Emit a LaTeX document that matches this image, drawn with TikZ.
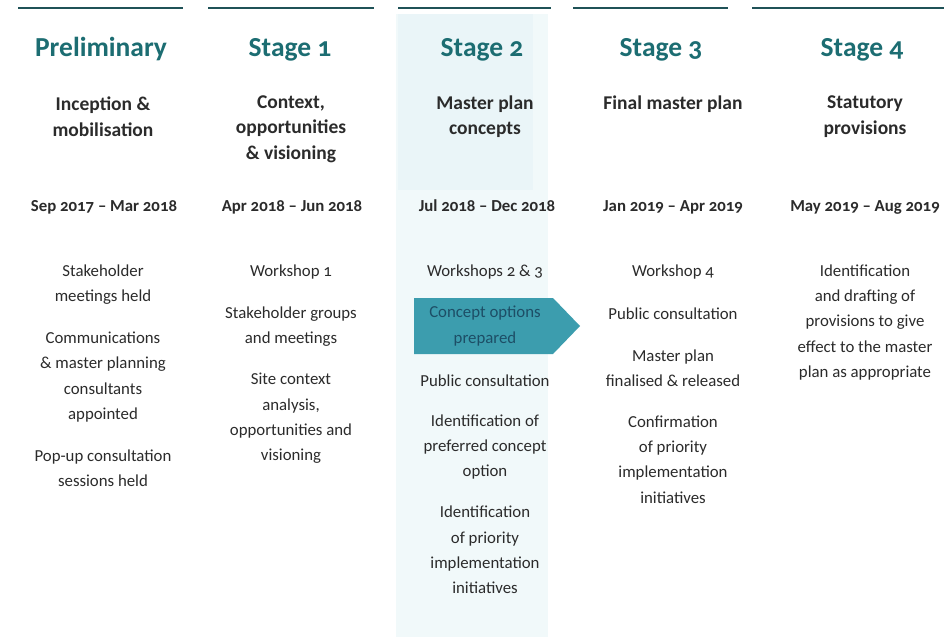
\documentclass[tikz,border=0pt]{standalone}
\usepackage{fontspec}
\setmainfont{Carlito}[Numbers=OldStyle]
\begin{document}
\definecolor{headteal}{HTML}{1C6D72}
\definecolor{ruleteal}{HTML}{1F5257}
\definecolor{bodytext}{HTML}{2B2B2B}
\definecolor{arrowfill}{HTML}{3C9DAE}
\definecolor{arrowtext}{HTML}{1D4E66}
\definecolor{colshade}{HTML}{F1F9FA}
\definecolor{colshadetop}{HTML}{EAF5F8}
\begin{tikzpicture}[x=1pt,y=-1pt,
  toprule/.style={draw=ruleteal,line width=2.6pt},
  stagehead/.style={text=headteal,font=\fontsize{27.5}{30}\selectfont\bfseries,inner sep=0pt,anchor=base},
  phase/.style={text=bodytext,align=center,font=\fontsize{19.5}{25.5}\selectfont\bfseries,inner sep=0pt},
  period/.style={text=bodytext,font=\fontsize{16.8}{18}\selectfont\bfseries,inner sep=0pt,anchor=base},
  item/.style={text=bodytext,align=center,font=\fontsize{16.8}{25.3}\selectfont,inner sep=0pt},
  arrowlabel/.style={text=arrowtext,align=center,font=\fontsize{16.8}{25.3}\selectfont,inner sep=0pt}]
\useasboundingbox (0,0) rectangle (944,637);
\fill[white] (0,0) rectangle (944,637);
% shaded band behind the current stage
\fill[colshade] (396,14) rectangle (548,637);
\fill[colshadetop] (398,14) rectangle (533,190);
% rules above each stage
\draw[toprule] (18,8) -- (183,8);
\draw[toprule] (208,8) -- (374,8);
\draw[toprule] (398,8) -- (551,8);
\draw[toprule] (573,8) -- (728,8);
\draw[toprule] (752,8) -- (944,8);
% stage headings
\node[stagehead] (h0) at (101,56) {Preliminary};
\node[stagehead] (h1) at (290,56) {Stage 1};
\node[stagehead] (h2) at (482,56) {Stage 2};
\node[stagehead] (h3) at (661,56) {Stage 3};
\node[stagehead] (h4) at (862,56) {Stage 4};
% phase names
\node[phase] (p0) at (103,116.5) {Inception \&\\mobilisation};
\node[phase] (p1) at (291,129) {Context,\\opportunities\\\& visioning};
\node[phase] (p2) at (485,116.5) {Master plan\\concepts};
\node[phase] (p3) at (673,104) {Final master plan};
\node[phase] (p4) at (865,116.5) {Statutory\\provisions};
% periods
\node[period] (d0) at (104,211) {Sep 2017 – Mar 2018};
\node[period] (d1) at (292,211) {Apr 2018 – Jun 2018};
\node[period] (d2) at (487,211) {Jul 2018 – Dec 2018};
\node[period] (d3) at (673,211) {Jan 2019 – Apr 2019};
\node[period] (d4) at (865,211) {May 2019 – Aug 2019};
% preliminary activities
\node[item] (a01) at (103,284.5) {Stakeholder\\meetings held};
\node[item] (a02) at (103,377) {Communications\\\& master planning\\consultants\\appointed};
\node[item] (a03) at (103,468.5) {Pop-up consultation\\sessions held};
% stage 1 activities
\node[item] (a11) at (291,272) {Workshop 1};
\node[item] (a12) at (291,326.5) {Stakeholder groups\\and meetings};
\node[item] (a13) at (291,418.5) {Site context\\analysis,\\opportunities and\\visioning};
% stage 2 activities
\node[item] (a21) at (485,272) {Workshops 2 \& 3};
\fill[arrowfill] (414,298) -- (553,298) -- (580,326) -- (553,354) -- (414,354) -- cycle;
\node[arrowlabel] (a22) at (485,326) {Concept options\\prepared};
\node[item] (a23) at (485,381) {Public consultation};
\node[item] (a24) at (485,447) {Identification of\\preferred concept\\option};
\node[item] (a25) at (485,550) {Identification\\of priority\\implementation\\initiatives};
% stage 3 activities
\node[item] (a31) at (673,272) {Workshop 4};
\node[item] (a32) at (673,314) {Public consultation};
\node[item] (a33) at (673,368.5) {Master plan\\finalised \& released};
\node[item] (a34) at (673,459.5) {Confirmation\\of priority\\implementation\\initiatives};
% stage 4 activities
\node[item] (a41) at (865,322.5) {Identification\\and drafting of\\provisions to give\\effect to the master\\plan as appropriate};
\end{tikzpicture}
\end{document}
